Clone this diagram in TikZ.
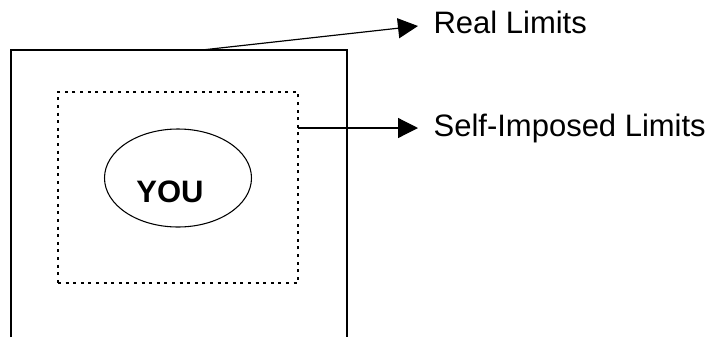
\documentclass[tikz,border=0pt]{standalone}
\usepackage{fontspec}
\setmainfont{Liberation Sans}
\usetikzlibrary{arrows.meta,shapes.geometric}

\tikzset{every picture/.style={line width=0.9pt}}
\tikzset{
  limitlabel/.style={inner sep=0pt, anchor=base west, font=\fontsize{23.25}{28}\selectfont},
  limitarrow/.style={-{Triangle[length=15pt,width=15pt]}},
  dotbox/.style={draw, rectangle, line width=2.2pt, dash pattern=on 2.2pt off 3.5pt, minimum width=180pt, minimum height=143.25pt, inner sep=0pt}
}

\begin{document}
\begin{tikzpicture}[x=0.75pt,y=0.75pt,yscale=-1,xscale=1]
\useasboundingbox (0,0) rectangle (715,337);

%Shape: Real limits (open at the bottom)
\draw (11,337) -- (11,50) -- (347,50) -- (347,337) ;
%Shape: Self-imposed limits
\node [dotbox] (self) at (178,187.5) {};
%Shape: Ellipse
\node [draw, ellipse, line width=0.8pt, minimum width=110.25pt, minimum height=73.5pt] (you) at (178,178) {};

% Text Node
\node [inner sep=0pt, anchor=base, font=\fontsize{23.25}{28}\selectfont\bfseries] (youtext) at (170,202) {YOU};
% Text Node
\node [limitlabel] (real) at (433,33) {Real Limits};
% Text Node
\node [limitlabel] (selflabel) at (433,136) {Self-Imposed Limits};

%Straight Lines
\coordinate (realfoot) at (202,50);
\coordinate (realtip) at (418,26);
\draw [limitarrow] (realfoot) -- (realtip) ;
%Straight Lines
\coordinate (selffoot) at (298,128);
\coordinate (selftip) at (418,128);
\draw [limitarrow] (selffoot) -- (selftip) ;

\end{tikzpicture}
\end{document}
